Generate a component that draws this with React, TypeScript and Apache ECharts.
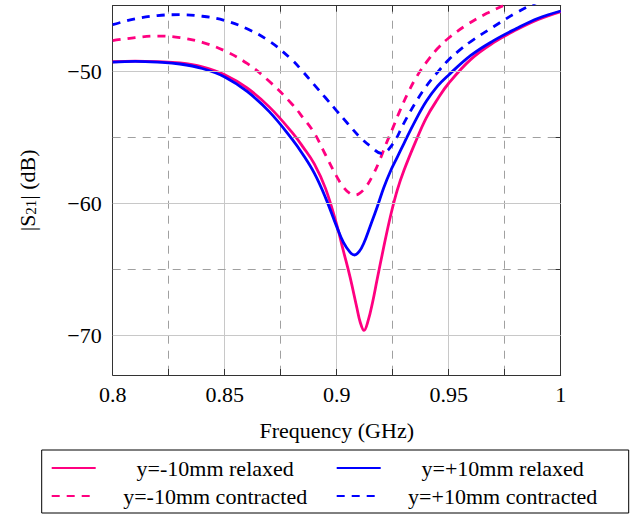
import React, { useEffect, useRef } from "react";
import * as echarts from "echarts";

// ---- data (frequency in GHz, |S21| in dB) ----
const freqRelaxedNeg = [0.8, 0.81, 0.82, 0.83, 0.84, 0.85, 0.86, 0.87, 0.88, 0.885, 0.89, 0.895, 0.9, 0.903, 0.906, 0.909, 0.9105, 0.9122, 0.914, 0.916, 0.918, 0.921, 0.924, 0.927, 0.93, 0.935, 0.94, 0.945, 0.95, 0.96, 0.97, 0.98, 0.99, 1.0];
const s21RelaxedNeg = [-49.25, -49.2, -49.24, -49.34, -49.64, -50.24, -51.24, -52.69, -54.59, -55.72, -56.99, -58.85, -61.6, -63.6, -65.6, -67.9, -69.0, -69.62, -68.9, -67.5, -65.8, -63.3, -60.96, -59.0, -57.5, -55.4, -53.5, -52.1, -50.88, -49.05, -47.8, -46.85, -46.05, -45.45];

const freqRelaxedPos = [0.8, 0.81, 0.82, 0.83, 0.84, 0.85, 0.86, 0.87, 0.88, 0.885, 0.89, 0.895, 0.9, 0.903, 0.906, 0.908, 0.91, 0.912, 0.915, 0.918, 0.921, 0.924, 0.927, 0.93, 0.935, 0.94, 0.945, 0.95, 0.96, 0.97, 0.98, 0.99, 1.0];
const s21RelaxedPos = [-49.28, -49.22, -49.28, -49.42, -49.76, -50.4, -51.5, -53.05, -55.1, -56.3, -57.7, -59.55, -61.75, -62.95, -63.7, -63.9, -63.65, -63.05, -61.7, -60.3, -58.8, -57.55, -56.5, -55.45, -53.75, -52.25, -51.1, -50.25, -48.75, -47.65, -46.75, -45.95, -45.4];

const freqContractedNeg = [0.8, 0.81, 0.82, 0.83, 0.84, 0.85, 0.86, 0.87, 0.88, 0.885, 0.89, 0.895, 0.9, 0.903, 0.906, 0.908, 0.91, 0.913, 0.916, 0.919, 0.922, 0.925, 0.928, 0.932, 0.936, 0.94, 0.945, 0.95, 0.958, 0.967, 0.975, 0.985, 1.0];
const s21ContractedNeg = [-47.65, -47.42, -47.3, -47.42, -47.78, -48.42, -49.38, -50.75, -52.45, -53.5, -54.65, -56.3, -57.95, -58.75, -59.25, -59.35, -59.25, -58.75, -57.9, -56.8, -55.5, -54.3, -53.05, -51.55, -50.3, -49.3, -48.25, -47.45, -46.46, -45.58, -44.95, -44.2, -43.3];

const freqContractedPos = [0.8, 0.81, 0.82, 0.83, 0.84, 0.85, 0.86, 0.87, 0.88, 0.885, 0.89, 0.895, 0.9, 0.905, 0.91, 0.915, 0.92, 0.925, 0.93, 0.935, 0.94, 0.945, 0.95, 0.955, 0.96, 0.97, 0.98, 0.99, 1.0];
const s21ContractedPos = [-46.44, -46.0, -45.75, -45.68, -45.8, -46.12, -46.75, -47.7, -49.1, -50.02, -51.0, -51.98, -52.97, -53.95, -54.9, -55.65, -56.2, -55.5, -53.9, -52.4, -51.1, -50.05, -49.1, -48.35, -47.7, -46.6, -45.55, -44.7, -44.0];

const seriesNames = ["y=-10mm relaxed", "y=+10mm relaxed", "y=-10mm contracted", "y=+10mm contracted"];

const yLabelValues = [-70, -60, -50];
const yTickValues = [-70, -65, -60, -55, -50];
const yMajorGrid = [-70, -60, -50];
const yMinorGrid = [-65, -55];

// ---- styles ----
const FONT = "Liberation Serif";
const FS = 22;
const PINK = "#ff0080";
const BLUE = "#0000ff";
const FRAME = "#333333";
const MAJOR_GRID = "#c8c8c8";
const MINOR_GRID = "#a0a0a0";
const DASH = [8, 7];

const zip = (xs: number[], ys: number[]) => xs.map((x, i) => [x, ys[i]]);

export default function App() {
  const ref = useRef<HTMLDivElement>(null);

  useEffect(() => {
    const chart = echarts.init(ref.current!, null, { renderer: "svg" });

    const lineSeries = (name: string, data: number[][], color: string, dashed: boolean) => ({
      name,
      type: "line",
      data,
      color,
      symbol: "none",
      showSymbol: false,
      smooth: 0.4,
      clip: true,
      z: 3,
      lineStyle: { color, width: 2.8, type: dashed ? DASH : "solid" },
      itemStyle: { color },
      emphasis: { disabled: true },
    });

    const xCommon = {
      type: "value",
      min: 0.8,
      max: 1.0,
      interval: 0.05,
      axisLine: { show: true, onZero: false, lineStyle: { color: FRAME, width: 1 } },
      axisTick: { show: true, inside: true, length: 6, lineStyle: { color: FRAME, width: 1 } },
      minorTick: { show: true, splitNumber: 2, length: 6, lineStyle: { color: FRAME, width: 1 } },
    };

    const yCommon = {
      type: "value",
      min: -73,
      max: -45,
      axisLine: { show: true, onZero: false, lineStyle: { color: FRAME, width: 1 } },
      axisTick: { show: true, inside: true, length: 6, customValues: yTickValues, lineStyle: { color: FRAME, width: 1 } },
      splitLine: { show: false },
      minorSplitLine: { show: false },
    };

    chart.setOption({
      animation: false,
      grid: { left: 112.7, right: 73.3, top: 5.7, bottom: 152, containLabel: false },
      xAxis: [
        {
          ...xCommon,
          position: "bottom",
          splitLine: { show: true, lineStyle: { color: MAJOR_GRID, width: 1, type: "solid" } },
          minorSplitLine: { show: true, lineStyle: { color: MINOR_GRID, width: 1, type: DASH } },
          axisLabel: { show: true, color: "#000", fontFamily: FONT, fontSize: FS, margin: 8 },
          name: "Frequency (GHz)",
          nameLocation: "middle",
          nameGap: 44,
          nameTextStyle: { color: "#000", fontFamily: FONT, fontSize: FS },
        },
        {
          ...xCommon,
          position: "top",
          splitLine: { show: false },
          minorSplitLine: { show: false },
          axisLabel: { show: false },
        },
      ],
      yAxis: [
        {
          ...yCommon,
          position: "left",
          axisLabel: {
            show: true,
            customValues: yLabelValues,
            color: "#000",
            fontFamily: FONT,
            fontSize: FS,
            margin: 11,
            formatter: (v: number) => (v < 0 ? "\u2212" + Math.abs(v) : String(v)),
          },
          name: "{n||S}{s|21}{n|| (dB)}",
          nameLocation: "middle",
          nameRotate: 90,
          nameGap: 74,
          nameTextStyle: {
            color: "#000",
            fontFamily: FONT,
            fontSize: FS,
            rich: {
              n: { fontFamily: FONT, fontSize: FS, lineHeight: 26, color: "#000", verticalAlign: "bottom" },
              s: { fontFamily: FONT, fontSize: 15, lineHeight: 15, color: "#000", verticalAlign: "bottom" },
            },
          },
        },
        {
          ...yCommon,
          position: "right",
          axisLabel: { show: false },
        },
      ],
      legend: {
        data: seriesNames,
        left: 41.7,
        top: 450,
        width: 572,
        orient: "horizontal",
        itemWidth: 44,
        itemHeight: 14,
        itemGap: 6,
        padding: [7, 9, 6, 9],
        borderColor: "#000",
        borderWidth: 1,
        borderRadius: 0,
        selectedMode: false,
        itemStyle: { opacity: 0 },
        formatter: (name: string) => {
          const idx = seriesNames.indexOf(name);
          return `{${idx % 2 === 0 ? "c1" : "c2"}|${name}}`;
        },
        textStyle: {
          color: "#000",
          fontFamily: FONT,
          fontSize: FS,
          rich: {
            c1: { width: 229, align: "center", fontFamily: FONT, fontSize: FS, lineHeight: 28, color: "#000" },
            c2: { width: 234, align: "center", fontFamily: FONT, fontSize: FS, lineHeight: 28, color: "#000" },
          },
        },
      },
      series: [
        {
          name: "grid",
          type: "line",
          data: [],
          z: 1,
          silent: true,
          markLine: {
            silent: true,
            symbol: ["none", "none"],
            label: { show: false },
            emphasis: { disabled: true },
            animation: false,
            data: [
              ...yMajorGrid.map((v) => ({ yAxis: v, lineStyle: { color: MAJOR_GRID, width: 1, type: "solid" } })),
              ...yMinorGrid.map((v) => ({ yAxis: v, lineStyle: { color: MINOR_GRID, width: 1, type: DASH } })),
            ],
          },
        },
        lineSeries(seriesNames[0], zip(freqRelaxedNeg, s21RelaxedNeg), PINK, false),
        lineSeries(seriesNames[1], zip(freqRelaxedPos, s21RelaxedPos), BLUE, false),
        lineSeries(seriesNames[2], zip(freqContractedNeg, s21ContractedNeg), PINK, true),
        lineSeries(seriesNames[3], zip(freqContractedPos, s21ContractedPos), BLUE, true),
      ],
    });

    return () => chart.dispose();
  }, []);

  return <div ref={ref} style={{ position: "absolute", left: 0, top: 0, width: 634, height: 527 }} />;
}
